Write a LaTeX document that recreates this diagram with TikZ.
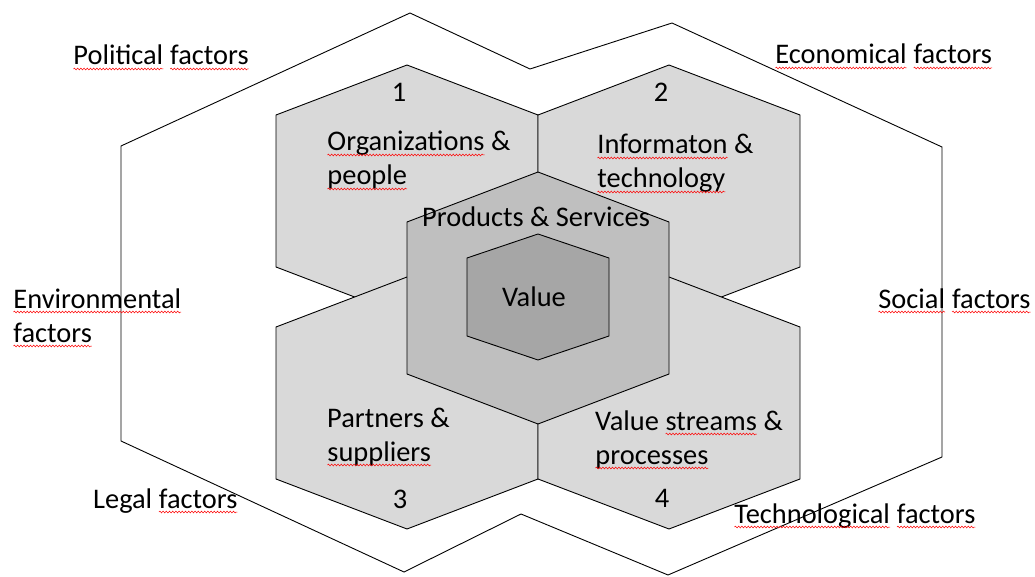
\documentclass[tikz,border=0pt]{standalone}
\usepackage{fontspec}
\setmainfont{Carlito}
\usepackage{tikz}
\usetikzlibrary{decorations.pathmorphing}

\definecolor{hexlight}{HTML}{D9D9D9}
\definecolor{hexmid}{HTML}{BFBFBF}
\definecolor{hexdark}{HTML}{A6A6A6}

\tikzset{
	hexline/.style={draw=black, line width=0.9pt, line join=miter},
	lbl/.style={inner sep=0pt, anchor=base west, align=left, font=\fontsize{28.4}{34}\selectfont},
	num/.style={inner sep=0pt, anchor=base, font=\fontsize{28.4}{34}\selectfont},
	spellwave/.style={draw=red, line width=0.5pt, decorate, decoration={snake, amplitude=0.9pt, segment length=3.2pt}}
}

% red wavy underline of the spell check
\newcommand{\spell}[1]{\tikz[baseline=(word.base)]{\node[inner sep=0pt, outer sep=0pt, anchor=base] (word) {#1}; \draw[spellwave] ([yshift=-4pt]word.base west) -- ([yshift=-4pt]word.base east);}}

\begin{document}
\begin{tikzpicture}[x=1pt,y=-1pt]
		\useasboundingbox (0,0) rectangle (1035,577);
		
		% outer frame
		\draw [hexline] (121,146) -- (410,13) -- (530,69) -- (672,23) -- (942,147) -- (942,457) -- (668,575) -- (521,514) -- (404,572) -- (121,441) -- cycle;
		
		% four blocks
		\filldraw [hexline, fill=hexlight] (407,65) -- (538,115) -- (538,267) -- (407,317) -- (276,267) -- (276,115) -- cycle;
		\filldraw [hexline, fill=hexlight] (669,65) -- (800,115) -- (800,267) -- (669,317) -- (538,267) -- (538,115) -- cycle;
		\filldraw [hexline, fill=hexlight] (407,277) -- (538,327) -- (538,479) -- (407,529) -- (276,479) -- (276,327) -- cycle;
		\filldraw [hexline, fill=hexlight] (669,277) -- (800,327) -- (800,479) -- (669,529) -- (538,479) -- (538,327) -- cycle;
		
		% products and value
		\filldraw [hexline, fill=hexmid] (538,172) -- (669,222) -- (669,374) -- (538,424) -- (407,374) -- (407,222) -- cycle;
		\filldraw [hexline, fill=hexdark] (538,234) -- (609,258) -- (609,336) -- (538,360) -- (467,336) -- (467,258) -- cycle;
		
		\node [num] (n1) at (399,102) {1};
		\node [num] (n2) at (661,102) {2};
		\node [num] (n3) at (400,508) {3};
		\node [num] (n4) at (662,507) {4};
		
		% two-line texts: placed at the base of their last line
		\node [lbl] (orgs) at (327,185) {\spell{Organizations} \&\\\spell{people}};
		\node [lbl] (info) at (597,188) {\spell{Informaton} \&\\\spell{technology}};
		\node [lbl] (partners) at (327,461) {Partners \&\\\spell{suppliers}};
		\node [lbl] (streams) at (595,464) {Value \spell{streams} \&\\\spell{processes}};
		\node [num] (products) at (536,227) {Products \& Services};
		\node [num] (value) at (534,306) {Value};
		
		\node [lbl] (political) at (73,65) {\spell{Political} \spell{factors}};
		\node [lbl] (economical) at (775,64) {\spell{Economical} \spell{factors}};
		\node [lbl] (environmental) at (13,342) {\spell{Environmental}\\\spell{factors}};
		\node [lbl] (social) at (878,308) {\spell{Social} \spell{factors}};
		\node [lbl] (legal) at (93,508) {Legal \spell{factors}};
		\node [lbl] (technological) at (734,523) {\spell{Technological} \spell{factors}};
\end{tikzpicture}
\end{document}
